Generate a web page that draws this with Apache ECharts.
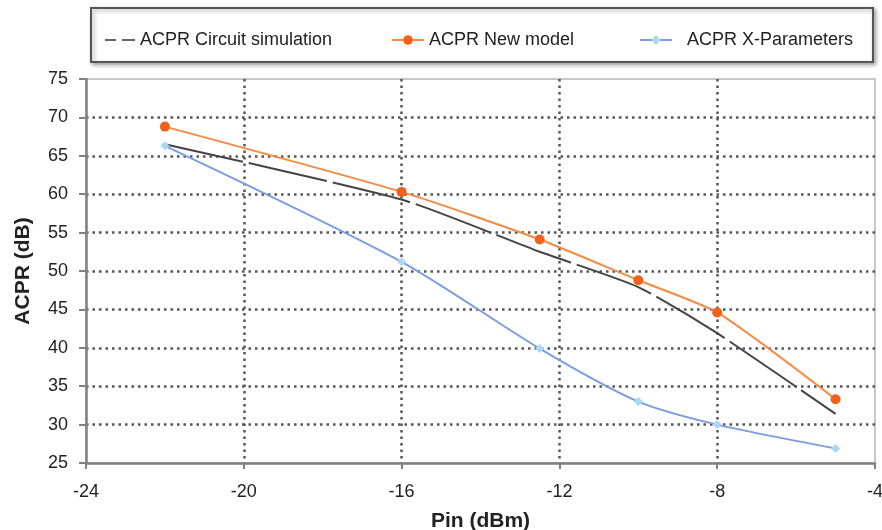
<!DOCTYPE html>
<html>
<head>
<meta charset="utf-8">
<script src="https://cdn.jsdelivr.net/npm/echarts@6/dist/echarts.min.js"></script>
<style>
  html, body { margin: 0; padding: 0; background: #fff; }
  #chart { width: 882px; height: 530px; }
</style>
</head>
<body>
<div id="chart"></div>
<script>
const pinValues = [-22, -16, -12.5, -10, -8, -5]
const circuitSim = [66.5, 59.3, 52.5, 47.9, 41.9, 31.4]
const newModel = [68.8, 60.3, 54.1, 48.8, 44.6, 33.3]
const xParams = [66.3, 51.2, 39.9, 33.0, 30.0, 26.9]

const toPairs = (ys) => pinValues.map((x, i) => [x, ys[i]])

const chart = echarts.init(document.getElementById('chart'))
const font = 'Arial, "Liberation Sans", sans-serif'
const legendText = { fontSize: 18, color: '#222', fontFamily: font }

const option = {
  backgroundColor: '#fff',
  animation: false,
  textStyle: { fontFamily: font },
  graphic: [{
    type: 'rect',
    shape: { x: 91, y: 8, width: 782, height: 54 },
    style: {
      fill: '#fff',
      stroke: '#555',
      lineWidth: 2,
      shadowBlur: 4,
      shadowOffsetX: 2,
      shadowOffsetY: 2,
      shadowColor: 'rgba(0,0,0,0.35)'
    },
    z: -1
  }],
  legend: [
    { // dashed line icon, no marker
      data: [{ name: 'ACPR Circuit simulation', icon: 'path://M0,0h11v2h-11zM17,0h13v2h-13z' }],
      left: 100, top: 26, itemWidth: 30, itemHeight: 3,
      textStyle: legendText },
    { data: ['ACPR New model'], left: 386, top: 26, itemWidth: 32, itemHeight: 12,
      textStyle: legendText },
    { data: ['ACPR X-Parameters'], left: 634, top: 26, itemWidth: 32, itemHeight: 12,
      textStyle: Object.assign({ padding: [0, 0, 0, 10] }, legendText) }
  ],
  grid: {
    left: 86,
    right: 7,
    top: 79,
    bottom: 67,
    outerBoundsMode: 'none',
    show: true,
    borderColor: '#c8c8c8',
    borderWidth: 2
  },
  xAxis: {
    type: 'value',
    min: -24,
    max: -4,
    interval: 4,
    name: 'Pin (dBm)',
    nameLocation: 'middle',
    nameGap: 48,
    nameTextStyle: { fontSize: 21, fontWeight: 'bold', color: '#222', fontFamily: font },
    axisLine: { lineStyle: { color: '#808080', width: 2.5 } },
    axisTick: { show: true, length: 6, lineStyle: { color: '#808080', width: 2 } },
    axisLabel: { fontSize: 18, color: '#222', margin: 20, fontFamily: font },
    splitLine: {
      show: true,
      showMinLine: false,
      showMaxLine: false,
      lineStyle: { color: '#555', width: 2.5, type: [2.5, 4] }
    }
  },
  yAxis: {
    type: 'value',
    min: 25,
    max: 75,
    interval: 5,
    name: 'ACPR (dB)',
    nameLocation: 'middle',
    nameGap: 52,
    nameTextStyle: { fontSize: 21, fontWeight: 'bold', color: '#222', fontFamily: font },
    axisLine: { show: true, lineStyle: { color: '#808080', width: 2.5 } },
    axisTick: { show: true, length: 7, lineStyle: { color: '#808080', width: 2 } },
    axisLabel: { fontSize: 18, color: '#222', margin: 18, fontFamily: font },
    splitLine: {
      show: true,
      showMinLine: false,
      showMaxLine: false,
      lineStyle: { color: '#555', width: 2.5, type: [2.5, 4] }
    }
  },
  series: [
    {
      name: 'ACPR Circuit simulation',
      type: 'line',
      data: toPairs(circuitSim),
      smooth: 0.2,
      symbol: 'none',
      lineStyle: { color: '#444', width: 2, type: [80, 6] },
      itemStyle: { color: '#666' },
      z: 2
    },
    {
      name: 'ACPR New model',
      type: 'line',
      data: toPairs(newModel),
      smooth: 0.2,
      symbol: 'circle',
      symbolSize: 10,
      lineStyle: { color: '#f68a40', width: 2 },
      itemStyle: { color: '#f0621a' },
      z: 3
    },
    {
      name: 'ACPR X-Parameters',
      type: 'line',
      data: toPairs(xParams),
      smooth: 0.25,
      symbol: 'diamond',
      symbolSize: 9,
      lineStyle: { color: '#7b9de3', width: 2 },
      itemStyle: { color: '#a9d8f5' },
      z: 3
    }
  ]
}

chart.setOption(option)
</script>
</body>
</html>
